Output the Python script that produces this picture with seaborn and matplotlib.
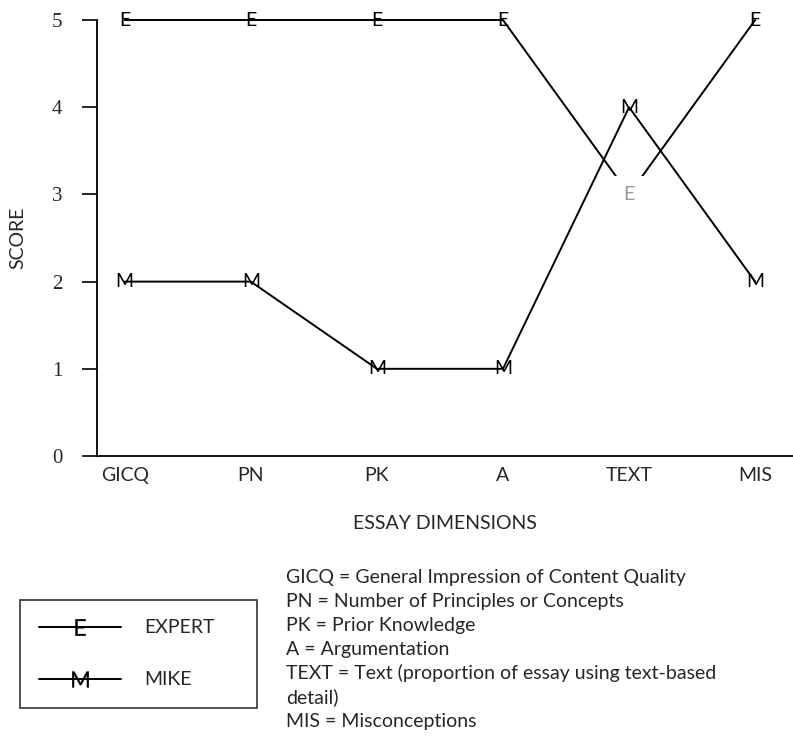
import matplotlib
matplotlib.use("Agg")
import matplotlib.pyplot as plt
from matplotlib.lines import Line2D
import pandas as pd
import seaborn as sns

dimensions = ["GICQ", "PN", "PK", "A", "TEXT", "MIS"]
expert = [5, 5, 5, 5, 3, 5]
mike = [2, 2, 1, 1, 4, 2]
score_ticks = [0, 1, 2, 3, 4, 5]

key_lines = [
    "GICQ = General Impression of Content Quality",
    "PN = Number of Principles or Concepts",
    "PK = Prior Knowledge",
    "A = Argumentation",
    "TEXT = Text (proportion of essay using text-based",
    "detail)",
    "MIS = Misconceptions",
]

sns.set_style("ticks")
plt.rcParams["font.family"] = ["Lato", "DejaVu Sans"]

df = pd.DataFrame({"dim": dimensions, "expert": expert, "mike": mike})

fig = plt.figure(figsize=(7.93, 7.52), dpi=100)
ax = fig.add_axes([0.1223, 0.3936, 0.8777, 0.5798])

sns.lineplot(data=df, x="dim", y="expert", color="black", linewidth=1.4,
             sort=False, ax=ax, clip_on=False)
sns.lineplot(data=df, x="dim", y="mike", color="black", linewidth=1.4,
             sort=False, ax=ax, clip_on=False)

# letters sit on the points like in the original figure
for i, v in enumerate(expert):
    if dimensions[i] == "TEXT":
        ax.text(i, v, "E", ha="center", va="center", fontsize=14, color="#999999",
                zorder=5, bbox=dict(facecolor="white", edgecolor="none", pad=7),
                clip_on=False)
    else:
        ax.text(i, v, "E", ha="center", va="center", fontsize=14, color="black",
                zorder=5, clip_on=False)
for i, v in enumerate(mike):
    ax.text(i, v, "M", ha="center", va="center", fontsize=14, color="black",
            zorder=5, clip_on=False)

ax.set_xlim(-0.22, 5.3)
ax.set_ylim(0, 5)
ax.set_yticks(score_ticks)
ax.set_yticklabels([str(t) for t in score_ticks], family="Liberation Serif", fontsize=15)
ax.tick_params(axis="y", length=11, width=1.2, color="black", pad=14)
ax.tick_params(axis="x", length=0, pad=8, labelsize=14)
ax.set_xlabel("")
ax.set_ylabel("")
sns.despine(ax=ax)
for side in ["left", "bottom"]:
    ax.spines[side].set_linewidth(1.3)
    ax.spines[side].set_color("black")

fig.text(0.023, 0.684, "SCORE", rotation=90, ha="center", va="center", fontsize=14)
fig.text(0.561, 0.304, "ESSAY DIMENSIONS", ha="center", va="center", fontsize=14)

for k, line in enumerate(key_lines):
    fig.text(0.361, 1 - (577 + 24 * k) / 752, line, ha="left", va="center", fontsize=14)

handles = [
    Line2D([], [], color="black", linewidth=1.4, marker=r"$\mathregular{E}$",
           markersize=12, markeredgewidth=0.2),
    Line2D([], [], color="black", linewidth=1.4, marker=r"$\mathregular{M}$",
           markersize=12, markeredgewidth=0.2),
]
leg = fig.legend(handles, ["EXPERT", "MIKE"], loc="upper left", mode="expand",
                 bbox_to_anchor=(20 / 793, 1 - 720 / 752, 237 / 793, 120 / 752),
                 bbox_transform=fig.transFigure,
                 fontsize=14, frameon=True, fancybox=False, handlelength=4.2,
                 handletextpad=1.2, labelspacing=1.8, borderpad=1.0, borderaxespad=0)
leg.get_frame().set_edgecolor("black")
leg.get_frame().set_linewidth(1.2)

fig.savefig("out.png", dpi=100)
